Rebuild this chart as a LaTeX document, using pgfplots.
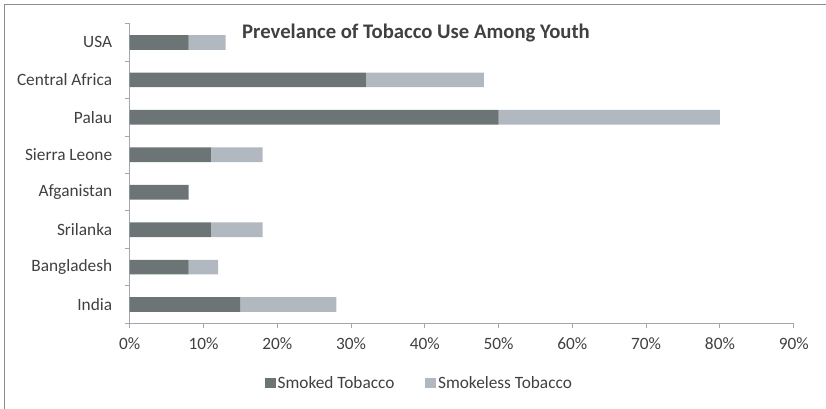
\documentclass[border=0pt]{standalone}
\usepackage{fontspec}
\setmainfont{Carlito}
\usepackage{pgfplots}
\pgfplotsset{compat=1.18}

\definecolor{smoked}{HTML}{6D7476}
\definecolor{smokeless}{HTML}{B2B8BF}
\definecolor{axiscol}{HTML}{A0A7AF}
\definecolor{textcol}{HTML}{404040}
\definecolor{framecol}{HTML}{8C8C8C}

\begin{document}
\begin{tikzpicture}
\begin{axis}[
  at={(0pt,0pt)}, anchor=south west,
  scale only axis, width=664pt, height=299.6pt,
  xbar stacked, bar width=14.7pt,
  xmin=0, xmax=90, ymin=-0.5, ymax=7.5,
  axis x line*=bottom, axis y line*=left,
  axis line style={axiscol, line width=1pt},
  xtick={0,10,...,90},
  xticklabel={\pgfmathprintnumber{\tick}\%},
  /pgf/number format/assume math mode=true,
  ytick={0,...,7},
  yticklabels={India,Bangladesh,Srilanka,Afganistan,Sierra Leone,Palau,Central Africa,USA},
  minor ytick={-0.5,0.5,...,7.5},
  every major y tick/.append style={draw=none},
  tick align=outside,
  major tick length=5pt, minor tick length=5pt,
  tick style={axiscol, line width=1pt},
  tick label style={font=\fontsize{17.3}{20}\selectfont, text=textcol},
  xticklabel style={yshift=-6pt},
  yticklabel style={xshift=-9pt},
  legend columns=2,
  legend style={draw=none, fill=none, at={(0.4364,-0.199)}, anchor=center,
    font=\fontsize{17.3}{20}\selectfont, text=textcol,
    nodes={inner sep=2pt},
    /tikz/every even column/.append style={column sep=29pt}},
  legend image code/.code={\fill[#1] (0pt,-5.3pt) rectangle (10.6pt,5.3pt);},
]
% smoked tobacco (bottom to top: India ... USA)
\addplot[fill=smoked, draw=none] coordinates {
  (15,0) (8,1) (11,2) (8,3) (11,4) (50,5) (32,6) (8,7)};
% smokeless tobacco stacked on top
\addplot[fill=smokeless, draw=none] coordinates {
  (13,0) (4,1) (7,2) (0,3) (7,4) (30,5) (16,6) (5,7)};
\legend{Smoked Tobacco, Smokeless Tobacco}
\end{axis}
\node[anchor=base, text=textcol, font=\fontsize{20.7}{24}\selectfont\bfseries]
  at (286.3pt,285.3pt) {Prevelance of Tobacco Use Among Youth};
\pgfresetboundingbox
\path[use as bounding box] (-129.7pt,-84.7pt) rectangle (696.3pt,323.3pt);
\draw[framecol, line width=1.5pt] (-125.2pt,-90pt) -- (-125.2pt,318.8pt) -- (700pt,318.8pt);
\end{tikzpicture}
\end{document}
